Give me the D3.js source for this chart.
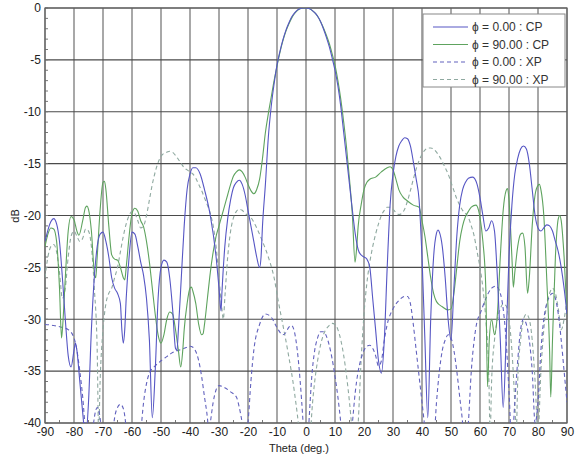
<!DOCTYPE html>
<html lang="en">
<head>
<meta charset="UTF-8">
<title>Radiation pattern</title>
<script src="https://d3js.org/d3.v7.min.js"></script>
<style>
  * { margin: 0; padding: 0; }
  body { background: #fff; }
  svg { display: block; font-family: "Liberation Sans", Arial, sans-serif; }
</style>
</head>
<body>
<svg width="575" height="458"></svg>
<script>
// phi = 0.00 : CP  [theta, dB]
var cp0 = [[-90,-22.5],[-88,-20.6],[-87,-20.3],[-86,-20.8],[-85,-22.5],[-84,-26],[-83,-30],[-82,-33.5],[-81,-34.6],[-80,-33],[-79.5,-32.3],[-79,-33],[-78,-36],[-77,-39],[-76,-41.5],[-75,-38],[-74,-31],[-73,-26],[-72,-23],[-71,-21.8],[-70,-21.6],[-69,-22.5],[-68,-24],[-67,-26],[-66,-27],[-65,-27.5],[-64,-28.5],[-63.5,-31],[-63,-32.3],[-62.5,-31],[-62,-28],[-61,-24],[-60,-21.6],[-59,-21.8],[-58,-23],[-57,-24.5],[-56,-25.8],[-55,-28],[-54,-32],[-53,-39.5],[-52,-35],[-51,-28],[-50,-25],[-49,-24.3],[-48,-24.5],[-47,-26],[-46,-29],[-45,-32.8],[-44.5,-33],[-44,-31],[-43,-26],[-42,-21],[-41,-17.5],[-40,-16],[-39,-15.4],[-38,-15.4],[-36.5,-16],[-35,-17.5],[-33,-20],[-31,-24],[-30,-27],[-29.3,-29.2],[-29,-27.5],[-28,-23],[-27,-20.3],[-26,-18.5],[-25,-17.3],[-24,-16.8],[-23,-16.6],[-22,-17],[-21,-18],[-20,-19.5],[-19,-21],[-18,-22.5],[-17,-24],[-16,-25],[-15.5,-24],[-15,-21],[-14,-17],[-13,-12.5],[-12,-9.5],[-11,-7.3],[-10,-5.5],[-9,-4.2],[-8,-3.1],[-7,-2.2],[-6,-1.5],[-5,-0.9],[-4,-0.5],[-3,-0.2],[-2,-0.05],[-1,0],[0,0],[1,-0.05],[2,-0.2],[3,-0.45],[4,-0.8],[5,-1.3],[6,-2],[7,-2.8],[8,-3.7],[9,-4.8],[10,-6],[11,-7.5],[12,-9.5],[13,-12],[14,-14.5],[15,-17],[16,-19.5],[17,-21.8],[18,-23.3],[19,-23.8],[20,-24],[21,-24.2],[22,-25],[23,-28],[24,-31],[25,-34],[26,-35.2],[27,-32],[28,-25],[29,-19],[30,-16],[31,-14.3],[32,-13.3],[33,-12.8],[34,-12.5],[35,-12.6],[36,-13.3],[37,-14.8],[38,-16.5],[39,-18.5],[40,-24],[41,-32],[42,-39.5],[43,-30],[44,-24],[45,-21.7],[45.5,-21.4],[46,-21.6],[47,-23],[48,-26],[49,-30],[50,-32],[51,-27],[52,-22],[53,-19],[54,-17.5],[55,-16.8],[56,-16.4],[57.5,-16.3],[59,-17],[60,-18.3],[61,-20],[62,-21.5],[63,-21.2],[64,-20.5],[65,-21.5],[66,-26],[67,-32],[68,-38.5],[69,-32],[70,-24],[71,-19],[72,-16],[73,-14.5],[74,-13.6],[75,-13.3],[76,-13.6],[77,-15],[78,-17.5],[79,-20],[80,-21.2],[81,-21.5],[82,-21.2],[83,-20.9],[84,-21],[85,-21.5],[86,-22.5],[87,-23.5],[88,-25],[89,-27],[90,-29.5]];

// phi = 90.00 : CP
var cp90 = [[-90,-23],[-89,-21.8],[-88,-21.2],[-87,-21.3],[-86,-22.5],[-85,-27],[-84.3,-31.8],[-84,-31],[-83,-26],[-82,-21.5],[-81,-20.1],[-80,-20.4],[-79,-21.5],[-78.3,-21.9],[-77,-20.5],[-76,-19.2],[-75.5,-19.1],[-75,-19.4],[-74,-21.5],[-73,-25.5],[-72.5,-26],[-72,-24],[-71,-19.5],[-70,-16.8],[-69.5,-16.7],[-69,-17.5],[-68,-21],[-67,-23.8],[-66,-24.2],[-65,-24.3],[-64,-25],[-63,-26],[-62.5,-26.2],[-62,-25],[-61,-22],[-60,-19.8],[-59,-19.3],[-58,-19.6],[-57,-20.5],[-56,-21.1],[-55,-22.5],[-54,-24.5],[-53,-27],[-52,-29.5],[-51,-31.5],[-50,-32.3],[-49,-31.5],[-48,-30],[-47,-29.3],[-46,-29.5],[-45,-31],[-44,-33],[-43.2,-34.6],[-42.5,-33],[-42,-31],[-41,-28.5],[-40,-27],[-39.5,-26.9],[-39,-27.3],[-38,-28.5],[-37,-30.5],[-36,-31.5],[-35.5,-31.4],[-35,-30.5],[-34,-28],[-33,-25.5],[-32,-23.5],[-31,-22],[-30,-21],[-29,-20],[-28,-19],[-27,-18],[-26,-17],[-25,-16.2],[-24,-15.8],[-23,-15.6],[-22,-15.8],[-21,-16.3],[-20,-17],[-19,-17.6],[-18,-17.9],[-17.5,-17.8],[-17,-17.5],[-16,-16.5],[-15,-14.5],[-14,-12],[-13,-10.2],[-12,-8.6],[-11,-7],[-10,-5.6],[-9,-4.3],[-8,-3.2],[-7,-2.3],[-6,-1.6],[-5,-1],[-4,-0.55],[-3,-0.25],[-2,-0.08],[-1,0],[0,0],[1,-0.05],[2,-0.2],[3,-0.45],[4,-0.8],[5,-1.3],[6,-1.9],[7,-2.6],[8,-3.4],[9,-4.4],[10,-5.5],[11,-7],[12,-8.8],[13,-11],[14,-13.5],[15,-16.5],[16,-20],[16.9,-24.5],[17.5,-23],[18,-21],[19,-19],[20,-17.5],[21,-16.8],[22,-16.5],[24,-16.3],[26,-15.8],[28,-15.4],[29,-15.3],[30,-15.6],[31,-16.5],[32,-17.5],[33.4,-18.2],[35,-18.6],[37,-19],[39,-19.2],[40,-20.5],[41,-22],[42,-24],[43,-26],[44,-27.5],[45,-28.3],[47,-28.8],[49,-29.1],[50,-29],[51,-27.5],[52,-25],[53,-22.5],[54,-21],[55,-20.1],[56,-19.6],[57,-19.2],[58.6,-19],[59.5,-19.5],[60,-20.2],[61,-22.5],[62,-27],[62.6,-36.5],[63.2,-32],[64,-30],[65,-31.5],[66,-29.5],[67,-24],[68,-19.5],[69,-17.6],[69.5,-17.4],[70,-18.5],[71,-24],[71.5,-26.9],[72,-25.5],[73,-23],[74,-21.8],[74.7,-21.7],[75.5,-23],[76.4,-27.5],[77,-26],[78,-21],[79,-18],[80,-17.1],[80.5,-17],[81,-17.5],[82,-20],[83,-26],[84,-33],[84.4,-37.5],[85,-32],[86,-24],[87,-20.3],[87.5,-20],[88,-20.5],[89,-24],[90,-29.5]];

// phi = 0.00 : XP
var xp0 = [[-90,-30.5],[-87,-30.6],[-84,-30.8],[-82,-31],[-80,-31.8],[-79,-33],[-78,-35],[-77,-37.5],[-76,-41],[-75,-44],[-74,-42],[-73,-39.5],[-72,-38.5],[-71,-39.5],[-70,-43],[-68,-45],[-67,-42],[-66,-39.5],[-65,-38.5],[-64,-38.2],[-63,-38.6],[-62,-40.5],[-61,-44],[-58,-44],[-57,-41],[-56,-38],[-55,-36.2],[-54,-35.2],[-52,-34.5],[-50,-34],[-48,-33.6],[-46,-33.2],[-44,-33],[-42,-32.8],[-40,-32.6],[-39,-32.7],[-38,-33.1],[-37,-34],[-36,-35.5],[-35,-37.5],[-34,-39.5],[-33.5,-41],[-33,-40],[-32,-38],[-31,-36.8],[-30,-36.4],[-28,-36.6],[-26,-37],[-24,-37.5],[-23,-38.5],[-22,-40],[-21,-42],[-20,-40],[-19,-36],[-18,-33],[-16,-30.5],[-14,-29.5],[-12,-29.8],[-10,-30.8],[-8,-31.5],[-7,-31.3],[-6,-30.8],[-5,-30.6],[-4,-31.2],[-3,-33],[-2,-36],[-1,-40],[0,-45],[1,-40],[2,-35.5],[3,-33],[4,-31.8],[5,-31.2],[6,-31.2],[7,-31.6],[8,-32.5],[9,-33.8],[10,-35.5],[11,-37.5],[12,-40],[13,-43],[15,-43],[16,-40],[17,-37],[18,-35],[19,-33.8],[20,-33],[21,-32.6],[22,-32.5],[23,-32.8],[24,-33.5],[25,-34.5],[26,-34],[27,-32],[28,-30.5],[30,-29],[32,-28.2],[34,-27.8],[35,-27.8],[36,-28.5],[37,-30.5],[38,-33],[39,-35.5],[40,-38],[41,-40.5],[42,-43],[44,-42],[45,-38],[46,-35],[47,-33],[48,-32],[49,-31.5],[50,-31.8],[51,-33],[52,-35],[53,-37.5],[54,-40],[55,-44],[56,-40],[57,-35],[58,-32],[59,-30.2],[60,-29.5],[62,-28],[64,-27],[65.5,-26.8],[67,-27.5],[68,-29],[69,-32],[70,-37],[71,-42],[72,-38],[73,-34],[74,-31],[75,-30],[76,-30.5],[77,-32],[78,-35],[79,-40],[80,-38],[81,-33],[82,-30],[83,-28.5],[84,-27.8],[85,-27.5],[86,-28],[87,-29.5],[88,-32],[89,-35],[90,-38]];

// phi = 90.00 : XP
var xp90 = [[-90,-26],[-89,-24],[-88,-23],[-87,-22.8],[-86,-23.5],[-85,-25.5],[-84,-28],[-83,-27],[-82,-24],[-81,-22],[-80,-21.5],[-79,-22],[-78,-22.5],[-77,-22.2],[-76,-21.3],[-75,-21.5],[-74,-23],[-73,-27],[-72,-33],[-71.5,-41],[-71,-36],[-70,-31],[-69,-28.5],[-68,-27.5],[-67,-27],[-66,-26],[-65,-25],[-64,-23.5],[-63,-22],[-62,-20.8],[-61,-20],[-60,-19.6],[-59,-19.8],[-58,-20.5],[-57,-21.2],[-56,-21],[-55,-20],[-54,-18.5],[-53,-17],[-52,-15.8],[-51,-14.9],[-50,-14.3],[-49,-14],[-48,-13.9],[-47,-13.8],[-46,-13.9],[-45,-14.2],[-44,-14.6],[-43,-15],[-42,-15.4],[-41,-15.6],[-40,-15.8],[-39,-16],[-38,-16.4],[-37,-17],[-36,-17.6],[-35,-18.3],[-34,-19],[-33,-19.8],[-32,-21],[-31,-23],[-30,-26],[-29,-29],[-28.5,-30],[-28,-28],[-27,-24],[-26,-21.5],[-25,-20.2],[-24,-19.6],[-23,-19.4],[-22,-19.5],[-21,-19.8],[-20,-20],[-19,-20.2],[-17,-21.2],[-15,-22.5],[-13,-24],[-11,-26],[-9.6,-28.2],[-8,-30.5],[-6,-33.5],[-4,-37],[-2,-42],[-1,-46],[1,-44],[2,-39],[3,-36],[4,-34],[5,-32.5],[6,-31.5],[8,-30.6],[9,-30.4],[10,-30.5],[11,-31],[12,-32],[13,-33.5],[14,-35.5],[15,-38],[16,-41],[17,-44],[18,-40],[19,-34],[20,-29.5],[21,-26.5],[22,-24.5],[23,-23],[24,-21.8],[25,-20.8],[26,-20],[27,-19.5],[28,-19.2],[29,-19.2],[30,-19.4],[31,-19.7],[32,-19.9],[33,-19.8],[34,-19.4],[35,-18.6],[36,-17.6],[37,-16.5],[38,-15.5],[39,-14.7],[40,-14.1],[41,-13.7],[42,-13.5],[43,-13.5],[44,-13.6],[45,-13.9],[46,-14.3],[47,-14.8],[48,-15.4],[49,-16],[50,-16.8],[51,-17.6],[52,-18.4],[53,-19],[54,-19.5],[55,-19.8],[56,-20.2],[57,-21],[58,-22],[59,-23.5],[60,-25],[61,-27],[62,-30],[63,-35],[63.5,-41],[64,-36],[65,-32],[66,-30],[67,-29],[68,-28.5],[69,-28.7],[70,-30],[71,-33],[72,-38],[72.5,-41],[73,-36],[74,-32],[75,-30],[76,-29.5],[77,-30],[78,-32],[79,-36],[80,-41],[81,-35],[82,-31],[83,-28.5],[84,-27.5],[85,-27],[86,-27.5],[87,-29],[88,-31],[89,-30],[90,-28]];

var xTicks = [-90, -80, -70, -60, -50, -40, -30, -20, -10, 0, 10, 20, 30, 40, 50, 60, 70, 80, 90];
var yTicks = [0, -5, -10, -15, -20, -25, -30, -35, -40];
var legendLabels = ["\u03d5 = 0.00 : CP", "\u03d5 = 90.00 : CP", "\u03d5 = 0.00 : XP", "\u03d5 = 90.00 : XP"];

var series = [
  { data: cp0,  color: "#5656c4", dash: null },
  { data: cp90, color: "#5ea35e", dash: null },
  { data: xp0,  color: "#6262be", dash: "4,3" },
  { data: xp90, color: "#8fa9a0", dash: "4,3" }
];

var svg = d3.select("svg");
var mLeft = 45, mRight = 567, mTop = 8, mBottom = 423;

var x = d3.scaleLinear().domain([-90, 90]).range([mLeft, mRight]);
var y = d3.scaleLinear().domain([-40, 0]).range([mBottom, mTop]);

svg.append("defs").append("clipPath").attr("id", "plotclip")
  .append("rect")
  .attr("x", mLeft).attr("y", mTop)
  .attr("width", mRight - mLeft).attr("height", mBottom - mTop);

// grid
var grid = svg.append("g");
grid.selectAll("line.v").data(xTicks).enter().append("line")
  .attr("x1", d => x(d)).attr("x2", d => x(d))
  .attr("y1", mTop).attr("y2", mBottom)
  .attr("stroke", "#6e6e6e").attr("stroke-width", 1.2);
grid.selectAll("line.h").data(yTicks).enter().append("line")
  .attr("x1", mLeft).attr("x2", mRight)
  .attr("y1", d => y(d)).attr("y2", d => y(d))
  .attr("stroke", "#4a4a4a").attr("stroke-width", 1.2);

// axes (plain hyphen minus like the reference)
var fmt = d => String(d);
var xAxis = d3.axisBottom(x).tickValues(xTicks).tickFormat(fmt).tickSize(0).tickPadding(4);
var yAxis = d3.axisLeft(y).tickValues(yTicks).tickFormat(fmt).tickSize(0).tickPadding(4);

var gx = svg.append("g").attr("transform", "translate(0," + mBottom + ")").call(xAxis);
var gy = svg.append("g").attr("transform", "translate(" + mLeft + ",0)").call(yAxis);
[gx, gy].forEach(function (g) {
  g.select(".domain").remove();
  g.selectAll("text").attr("font-size", 12).attr("fill", "#222")
    .attr("font-family", "'Liberation Sans', Arial, sans-serif");
});

// minor ticks (inside)
var minorY = d3.range(-40, 0.01, 1);
svg.append("g").selectAll("line").data(minorY).enter().append("line")
  .attr("x1", mLeft).attr("x2", mLeft + 3)
  .attr("y1", d => y(d)).attr("y2", d => y(d))
  .attr("stroke", "#777").attr("stroke-width", 1);
var minorX = d3.range(-85, 90, 10);
svg.append("g").selectAll("line").data(minorX).enter().append("line")
  .attr("x1", d => x(d)).attr("x2", d => x(d))
  .attr("y1", mBottom).attr("y2", mBottom - 3)
  .attr("stroke", "#777").attr("stroke-width", 1);

// frame
svg.append("rect")
  .attr("x", mLeft).attr("y", mTop)
  .attr("width", mRight - mLeft).attr("height", mBottom - mTop)
  .attr("fill", "none").attr("stroke", "#666").attr("stroke-width", 1.2);

// curves
var line = d3.line()
  .x(d => x(d[0]))
  .y(d => y(d[1]))
  .curve(d3.curveMonotoneX);

var curves = svg.append("g").attr("clip-path", "url(#plotclip)");
series.slice().reverse().forEach(function (s) {
  curves.append("path")
    .attr("d", line(s.data))
    .attr("fill", "none")
    .attr("stroke", s.color)
    .attr("stroke-width", 1.1)
    .attr("stroke-dasharray", s.dash);
});

// axis titles
svg.append("text")
  .attr("x", 299).attr("y", 452)
  .attr("text-anchor", "middle")
  .attr("font-size", 11).attr("fill", "#222")
  .text("Theta (deg.)");
svg.append("text")
  .attr("transform", "translate(19,216) rotate(-90)")
  .attr("text-anchor", "middle")
  .attr("font-size", 11).attr("fill", "#222")
  .text("dB");

// legend
var lg = svg.append("g");
lg.append("rect")
  .attr("x", 423).attr("y", 14).attr("width", 142).attr("height", 73)
  .attr("fill", "#fff").attr("stroke", "#888").attr("stroke-width", 1);
legendLabels.forEach(function (lab, i) {
  var ly = 27 + i * 17.5;
  lg.append("line")
    .attr("x1", 433).attr("x2", 468).attr("y1", ly).attr("y2", ly)
    .attr("stroke", series[i].color).attr("stroke-width", 1.1)
    .attr("stroke-dasharray", series[i].dash);
  lg.append("text")
    .attr("x", 472).attr("y", ly + 4)
    .attr("font-size", 12).attr("fill", "#333")
    .text(lab);
});
</script>
</body>
</html>
